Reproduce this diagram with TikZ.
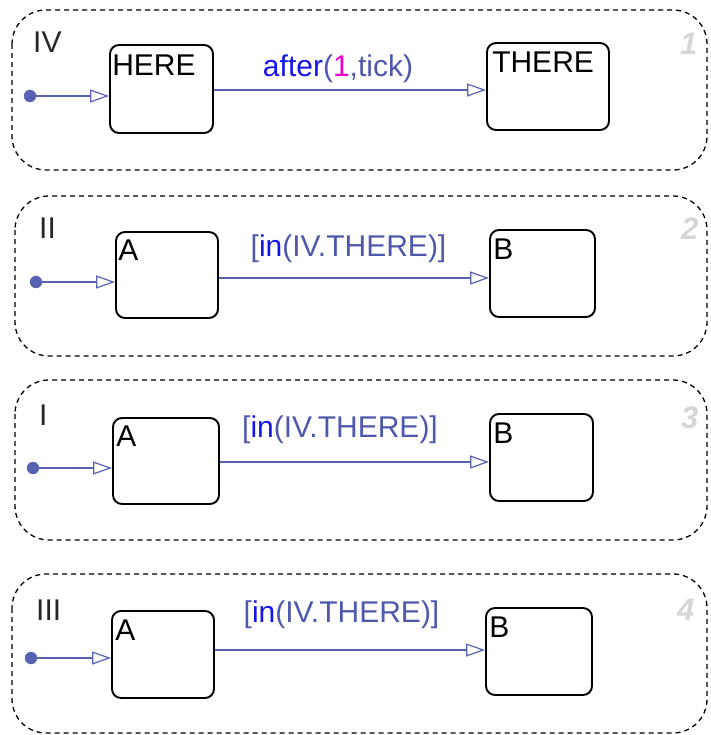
\documentclass[tikz,border=0pt]{standalone}
\usepackage{fontspec}
\setmainfont{Liberation Sans}
\usetikzlibrary{arrows.meta}
\definecolor{lineblue}{RGB}{88,98,178}
\definecolor{slate}{RGB}{78,88,172}
\definecolor{pureblue}{RGB}{20,20,235}
\definecolor{mag}{RGB}{235,0,210}
\definecolor{numgray}{RGB}{214,214,214}
\tikzset{
  panel/.style={draw=black, line width=1.3pt, dash pattern=on 5pt off 4pt, rounded corners=34pt},
  statebox/.style={draw=black, line width=1.9pt, rounded corners=9pt, inner sep=0pt, fill=white},
  stxt/.style={font=\fontsize{30}{30}\selectfont, inner sep=0pt, anchor=north west, text=black},
  plabel/.style={font=\fontsize{30}{30}\selectfont, inner sep=0pt, anchor=base west, text=black!85},
  pnum/.style={font=\fontsize{31}{31}\selectfont\bfseries\itshape, inner sep=0pt, anchor=base west, text=numgray},
  tlabel/.style={font=\fontsize{30}{30}\selectfont, inner sep=0pt, anchor=base, text=slate},
  dotnode/.style={circle, fill=lineblue, draw=lineblue, minimum size=12pt, inner sep=0pt},
  trans/.style={draw=lineblue, line width=1.3pt, -{Triangle[open, length=19pt, width=13pt, line width=1.2pt]}},
}
\begin{document}
\begin{tikzpicture}[x=1pt, y=-1pt]
\useasboundingbox (0,0) rectangle (710,735);
% ---------- Panel 1 (IV) ----------
\draw[panel] (12,10) rectangle (707,170);
\node[plabel] (p1) at (33,53) {IV};
\node[pnum] (n1) at (680,55) {1};
\node[statebox, minimum width=103pt, minimum height=88pt] (here) at (161.5,89) {};
\node[stxt] (heret) at ([xshift=3pt,yshift=-11pt]here.north west) {HERE};
\node[statebox, minimum width=122pt, minimum height=87pt] (there) at (548,86.5) {};
\node[stxt] (theret) at ([xshift=6pt,yshift=-10pt]there.north west) {THERE};
\node[dotnode] (d1) at (30,96) {};
\coordinate (t1) at (0,90);
\draw[trans] (d1) -- (here.west |- d1);
\draw[trans] (here.east |- t1) -- (there.west |- t1);
\node[tlabel] (l1) at (338,77) {\textcolor{pureblue}{after}(\textcolor{mag}{1},tick)};
% ---------- Panel 2 (II) ----------
\draw[panel] (15,196) rectangle (707,356);
\node[plabel] (p2) at (39,238) {II};
\node[pnum] (n2) at (681,240) {2};
\node[statebox, minimum width=102pt, minimum height=86pt] (a2) at (167,275) {};
\node[stxt] (a2t) at ([xshift=3pt,yshift=-9pt]a2.north west) {A};
\node[statebox, minimum width=105pt, minimum height=87pt] (b2) at (542.5,273.5) {};
\node[stxt] (b2t) at ([xshift=4pt,yshift=-10pt]b2.north west) {B};
\node[dotnode] (d2) at (36,282) {};
\coordinate (t2) at (0,278);
\draw[trans] (d2) -- (a2.west |- d2);
\draw[trans] (a2.east |- t2) -- (b2.west |- t2);
\node[tlabel] (l2) at (348.5,256) {[\textcolor{pureblue}{in}(IV.THERE)]};
% ---------- Panel 3 (I) ----------
\draw[panel] (15,380) rectangle (707,540);
\node[plabel] (p3) at (39,425) {I};
\node[pnum] (n3) at (681,428) {3};
\node[statebox, minimum width=106pt, minimum height=86pt] (a3) at (166,461) {};
\node[stxt] (a3t) at ([xshift=4pt,yshift=-9pt]a3.north west) {A};
\node[statebox, minimum width=103pt, minimum height=87pt] (b3) at (541.5,457.5) {};
\node[stxt] (b3t) at ([xshift=4pt,yshift=-10pt]b3.north west) {B};
\node[dotnode] (d3) at (33,468) {};
\coordinate (t3) at (0,462);
\draw[trans] (d3) -- (a3.west |- d3);
\draw[trans] (a3.east |- t3) -- (b3.west |- t3);
\node[tlabel] (l3) at (340,437) {[\textcolor{pureblue}{in}(IV.THERE)]};
% ---------- Panel 4 (III) ----------
\draw[panel] (12,574) rectangle (707,733);
\node[plabel] (p4) at (36,620) {III};
\node[pnum] (n4) at (677,620) {4};
\node[statebox, minimum width=102pt, minimum height=87pt] (a4) at (163,654.5) {};
\node[stxt] (a4t) at ([xshift=4pt,yshift=-10pt]a4.north west) {A};
\node[statebox, minimum width=106pt, minimum height=87pt] (b4) at (539,651.5) {};
\node[stxt] (b4t) at ([xshift=4pt,yshift=-10pt]b4.north west) {B};
\node[dotnode] (d4) at (31,658) {};
\coordinate (t4) at (0,650);
\draw[trans] (d4) -- (a4.west |- d4);
\draw[trans] (a4.east |- t4) -- (b4.west |- t4);
\node[tlabel] (l4) at (341.5,622) {[\textcolor{pureblue}{in}(IV.THERE)]};
\end{tikzpicture}
\end{document}
